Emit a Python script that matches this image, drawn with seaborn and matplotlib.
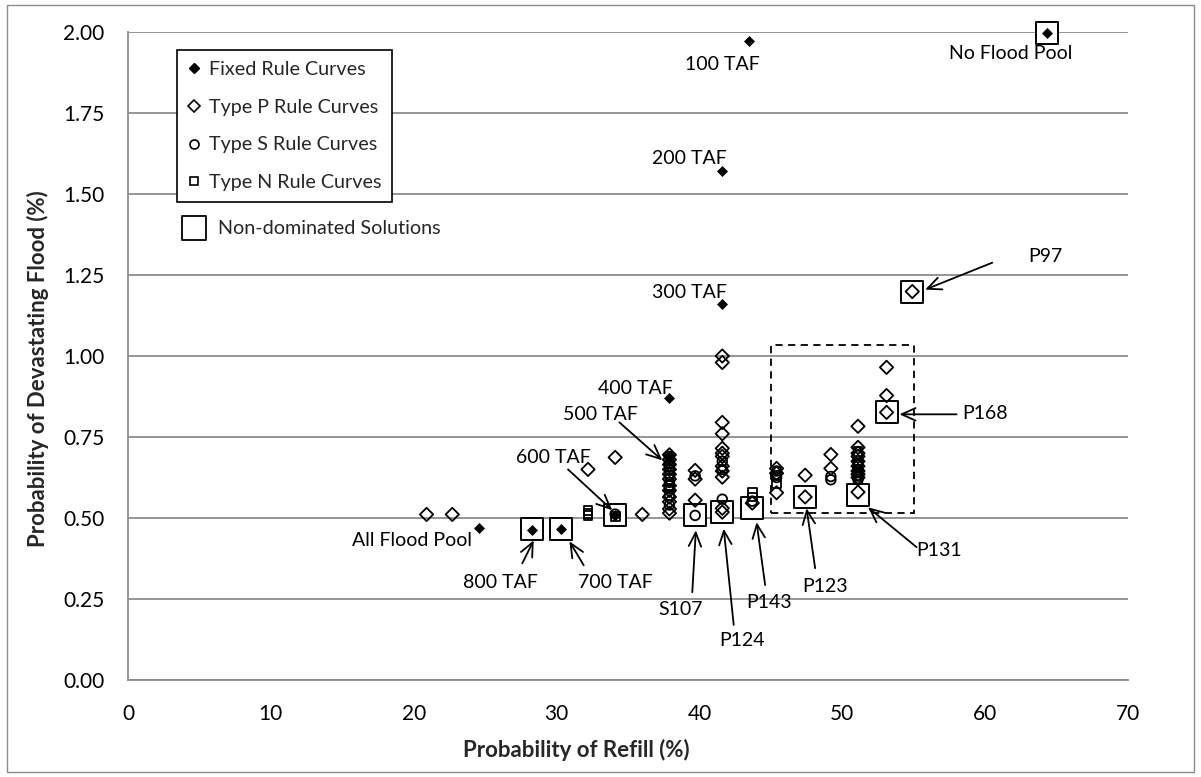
import matplotlib
matplotlib.use("Agg")
import matplotlib.pyplot as plt
from matplotlib.lines import Line2D
from matplotlib.patches import Rectangle
import seaborn as sns

# ---------------- data ----------------
# Fixed rule curves (flood pool size)
fixed_names = ["No Flood Pool", "100 TAF", "200 TAF", "300 TAF", "400 TAF",
               "500 TAF", "600 TAF", "700 TAF", "800 TAF", "All Flood Pool"]
fixed_refill = [64.3, 43.5, 41.6, 41.6, 37.9, 37.9, 34.1, 30.3, 28.3, 24.6]
fixed_flood = [1.997, 1.972, 1.572, 1.160, 0.869, 0.690, 0.508, 0.465, 0.462, 0.470]

# Type P rule curves
p_refill = [20.9, 22.7, 32.2, 34.1, 36.0,
            37.9, 37.9, 37.9, 37.9, 37.9, 37.9, 37.9, 37.9, 37.9, 37.9, 37.9, 37.9,
            39.7, 39.7, 39.7,
            41.6, 41.6, 41.6, 41.6, 41.6, 41.6, 41.6, 41.6, 41.6, 41.6, 41.6, 41.6,
            43.7,
            45.4, 45.4, 45.4,
            47.4, 47.4,
            49.2, 49.2,
            51.1, 51.1, 51.1, 51.1, 51.1, 51.1, 51.1, 51.1, 51.1, 51.1,
            53.1, 53.1, 53.1,
            54.9]
p_flood = [0.511, 0.511, 0.650, 0.687, 0.511,
           0.695, 0.680, 0.665, 0.650, 0.635, 0.620, 0.600, 0.585, 0.565, 0.550, 0.528, 0.515,
           0.647, 0.620, 0.555,
           1.000, 0.980, 0.795, 0.760, 0.715, 0.700, 0.690, 0.660, 0.645, 0.626, 0.530, 0.518,
           0.546,
           0.653, 0.638, 0.578,
           0.632, 0.565,
           0.696, 0.653,
           0.783, 0.718, 0.700, 0.690, 0.675, 0.660, 0.645, 0.635, 0.625, 0.580,
           0.965, 0.878, 0.826,
           1.199]

# Type S rule curves
s_refill = [34.1,
            37.9, 37.9, 37.9, 37.9, 37.9, 37.9, 37.9, 37.9,
            39.7, 39.7,
            41.6, 41.6, 41.6,
            43.7,
            45.4, 45.4,
            49.2, 49.2,
            51.1, 51.1, 51.1, 51.1, 51.1]
s_flood = [0.512,
           0.690, 0.670, 0.650, 0.630, 0.610, 0.590, 0.570, 0.540,
           0.630, 0.508,
           0.675, 0.650, 0.558,
           0.552,
           0.625, 0.645,
           0.628, 0.618,
           0.695, 0.670, 0.650, 0.630, 0.618]

# Type N rule curves
n_refill = [32.2, 32.2, 32.2, 34.1, 37.9, 37.9, 43.7, 43.7, 45.4, 45.4, 51.1, 51.1, 51.1]
n_flood = [0.508, 0.515, 0.522, 0.505, 0.660, 0.600, 0.578, 0.565, 0.607, 0.632,
           0.705, 0.665, 0.640]

# Non-dominated solutions
nd_refill = [64.3, 54.9, 53.1, 51.1, 47.4, 43.7, 41.6, 39.7, 34.1, 30.3, 28.3]
nd_flood = [1.997, 1.199, 0.826, 0.570, 0.565, 0.530, 0.518, 0.508, 0.508, 0.465, 0.465]

# Search-region box (refill range, flood range)
box_refill = [45.0, 55.0]
box_flood = [0.515, 1.035]

x_ticks = [0, 10, 20, 30, 40, 50, 60, 70]
y_ticks = [0.00, 0.25, 0.50, 0.75, 1.00, 1.25, 1.50, 1.75, 2.00]

# ---------------- style ----------------
sns.set_style("white")
plt.rcParams["font.family"] = ["Lato", "DejaVu Sans"]
GRID = "#8c8c8c"
FS_TICK = 15
FS_NOTE = 14
FS_LEG = 14.2
FS_AXIS = 16

W, H = 1201, 777
fig = plt.figure(figsize=(W / 100, H / 100), dpi=100)
ax = fig.add_axes([128 / W, 1 - 680 / H, 1000 / W, 648 / H])

ax.set_xlim(0, 70)
ax.set_ylim(0, 2.0)
ax.set_xticks(x_ticks)
ax.set_yticks(y_ticks)
ax.set_yticklabels([f"{v:.2f}" for v in y_ticks])
ax.yaxis.grid(True, color=GRID, lw=1.3)
ax.xaxis.grid(False)
ax.set_axisbelow(True)
for side in ["top", "right"]:
    ax.spines[side].set_visible(False)
for side in ["left", "bottom"]:
    ax.spines[side].set_color(GRID)
    ax.spines[side].set_linewidth(1.3)
ax.tick_params(axis="both", direction="out", length=5, width=1.2, color=GRID,
               labelsize=FS_TICK, labelcolor="black")
ax.tick_params(axis="y", pad=12)
ax.tick_params(axis="x", pad=12)

# ---------------- marks ----------------
sns.scatterplot(x=nd_refill, y=nd_flood, marker="s", s=250, facecolor="white",
                edgecolor="black", linewidth=1.4, ax=ax, zorder=2, clip_on=False)
sns.scatterplot(x=p_refill, y=p_flood, marker="D", s=46, facecolor="none",
                edgecolor="black", linewidth=1.3, ax=ax, zorder=3, clip_on=False)
sns.scatterplot(x=s_refill, y=s_flood, marker="o", s=48, facecolor="none",
                edgecolor="black", linewidth=1.3, ax=ax, zorder=3, clip_on=False)
sns.scatterplot(x=n_refill, y=n_flood, marker="s", s=40, facecolor="none",
                edgecolor="black", linewidth=1.3, ax=ax, zorder=3, clip_on=False)
sns.scatterplot(x=fixed_refill, y=fixed_flood, marker="D", s=26, color="black",
                edgecolor="black", linewidth=0.5, ax=ax, zorder=4, clip_on=False)

ax.add_patch(Rectangle((box_refill[0], box_flood[0]),
                       box_refill[1] - box_refill[0], box_flood[1] - box_flood[0],
                       fill=False, ec="black", lw=1.3, ls=(0, (4, 3)), zorder=5))

# ---------------- labels & arrows ----------------
text_kw = dict(fontsize=FS_NOTE, color="black", zorder=6)
fixed_text_pos = {
    "No Flood Pool": (61.8, 1.935, "center"),
    "100 TAF": (41.6, 1.900, "center"),
    "200 TAF": (39.3, 1.609, "center"),
    "300 TAF": (39.3, 1.197, "center"),
    "400 TAF": (35.5, 0.900, "center"),
    "500 TAF": (33.1, 0.820, "center"),
    "600 TAF": (29.8, 0.687, "center"),
    "700 TAF": (34.1, 0.302, "center"),
    "800 TAF": (26.1, 0.302, "center"),
    "All Flood Pool": (24.1, 0.431, "right"),
}
for name, (tx, ty, ha) in fixed_text_pos.items():
    ax.text(tx, ty, name, ha=ha, va="center", **text_kw)

nd_text_pos = {
    "S107": (38.7, 0.219, "center"),
    "P124": (43.0, 0.123, "center"),
    "P143": (44.9, 0.240, "center"),
    "P123": (48.8, 0.290, "center"),
    "P131": (56.8, 0.400, "center"),
    "P168": (58.4, 0.823, "left"),
    "P97": (63.0, 1.307, "left"),
}
for name, (tx, ty, ha) in nd_text_pos.items():
    ax.text(tx, ty, name, ha=ha, va="center", **text_kw)

arrows = [
    ((34.4, 0.795), (37.4, 0.678)),   # 500 TAF
    ((30.8, 0.650), (33.9, 0.524)),   # 600 TAF
    ((27.6, 0.360), (28.4, 0.431)),   # 800 TAF
    ((31.9, 0.354), (30.9, 0.428)),   # 700 TAF
    ((39.5, 0.271), (39.75, 0.462)),  # S107
    ((42.4, 0.170), (41.7, 0.467)),   # P124
    ((44.6, 0.293), (44.0, 0.487)),   # P143
    ((48.1, 0.345), (47.5, 0.530)),   # P123
    ((55.2, 0.410), (51.8, 0.533)),   # P131
    ((58.0, 0.820), (54.0, 0.820)),   # P168
    ((60.5, 1.288), (55.8, 1.205)),   # P97
]
for start, tip in arrows:
    ax.annotate("", xy=tip, xytext=start, zorder=6,
                arrowprops=dict(arrowstyle="->,head_length=1.0,head_width=0.45",
                                color="black", lw=1.3, shrinkA=0, shrinkB=0))

# ---------------- legend ----------------
handles = [
    Line2D([], [], ls="", marker="D", markersize=5, mfc="black", mec="black"),
    Line2D([], [], ls="", marker="D", markersize=6, mfc="none", mec="black", mew=1.2),
    Line2D([], [], ls="", marker="o", markersize=6.5, mfc="none", mec="black", mew=1.2),
    Line2D([], [], ls="", marker="s", markersize=6, mfc="none", mec="black", mew=1.2),
]
labels = ["Fixed Rule Curves", "Type P Rule Curves", "Type S Rule Curves",
          "Type N Rule Curves"]
leg = ax.legend(handles, labels, loc="upper left", bbox_to_anchor=(0.049, 0.972),
                frameon=True, fancybox=False, edgecolor="black", fontsize=FS_LEG,
                handlelength=0.6, handletextpad=0.45, labelspacing=1.05,
                borderpad=0.55, borderaxespad=0, framealpha=1)
leg.get_frame().set_linewidth(1.2)
leg.set_zorder(7)

ax.scatter([0.066], [0.6975], marker="s", s=290, facecolor="white",
           edgecolor="black", linewidth=1.3, transform=ax.transAxes, zorder=7,
           clip_on=False)
ax.text(0.09, 0.6975, "Non-dominated Solutions", transform=ax.transAxes,
        ha="left", va="center", fontsize=FS_LEG, zorder=7)

# ---------------- axis titles ----------------
ax.set_xlabel("Probability of Refill (%)", fontsize=FS_AXIS, fontweight="bold")
ax.set_ylabel("Probability of Devastating Flood (%)", fontsize=FS_AXIS,
              fontweight="bold")
ax.xaxis.label.set_va("center")
ax.yaxis.label.set_va("center")
ax.xaxis.set_label_coords(0.448, -0.108)
ax.yaxis.set_label_coords(-0.09, 0.48)

# outer chart border
fig.add_artist(Rectangle((7 / W, 5 / H), (1194 - 7) / W, (772 - 5) / H,
                         transform=fig.transFigure, fill=False, ec=GRID, lw=1.0))

fig.savefig("out.png", dpi=100)
